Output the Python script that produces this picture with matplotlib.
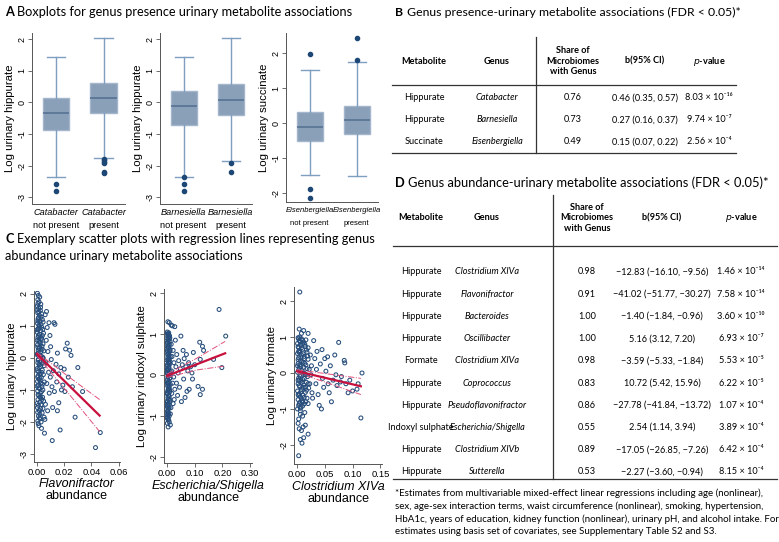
import numpy as np
import matplotlib
matplotlib.use("Agg")
import matplotlib.pyplot as plt

plt.rcParams["axes.unicode_minus"] = False

# ---------------- data ----------------
# A: boxplots (summary stats)
box_genus = ["Catabacter", "Barnesiella", "Eisenbergiella"]
box_ylabel = ["Log urinary hippurate", "Log urinary hippurate", "Log urinary succinate"]
box_med = [[-0.35, 0.15], [-0.10, 0.08], [-0.12, 0.10]]
box_q1 = [[-0.88, -0.35], [-0.72, -0.40], [-0.52, -0.32]]
box_q3 = [[0.15, 0.60], [0.35, 0.58], [0.33, 0.50]]
box_wlo = [[-2.38, -1.75], [-2.35, -1.85], [-1.48, -1.52]]
box_whi = [[1.43, 2.03], [1.45, 2.03], [1.53, 1.75]]
box_fliers = [
    [[-2.58, -2.80], [-1.78, -1.83, -1.88, -1.93, -2.20, -2.25]],
    [[-2.38, -2.58, -2.80], [-1.93, -2.20]],
    [[1.97, -1.88, -2.13], [1.82, 2.45]],
]
box_yticks = [[-3, -2, -1, 0, 1, 2], [-3, -2, -1, 0, 1, 2], [-2, -1, 0, 1, 2]]

# C: scatter points (abundance, log metabolite)
flavo_pts = np.array([
    (0.0003, 2.02), (0.0010, 1.95), (0.0006, 1.82), (0.0015, 1.75), (0.0002, 1.62), (0.0012, 1.55),
    (0.0025, 1.48), (0.0005, 1.41), (0.0018, 1.33), (0.0030, 1.28), (0.0008, 1.22), (0.0022, 1.15),
    (0.0004, 1.08), (0.0014, 1.02), (0.0035, 0.96), (0.0009, 0.91), (0.0027, 0.85), (0.0002, 0.80),
    (0.0019, 0.74), (0.0040, 0.70), (0.0007, 0.64), (0.0031, 0.58), (0.0013, 0.53), (0.0024, 0.47),
    (0.0004, 0.41), (0.0037, 0.36), (0.0016, 0.30), (0.0009, 0.24), (0.0028, 0.19), (0.0003, 0.13),
    (0.0021, 0.07), (0.0042, 0.02), (0.0011, -0.04), (0.0033, -0.10), (0.0006, -0.15), (0.0017, -0.21),
    (0.0026, -0.27), (0.0002, -0.33), (0.0039, -0.38), (0.0012, -0.44), (0.0023, -0.50), (0.0008, -0.56),
    (0.0032, -0.61), (0.0015, -0.67), (0.0004, -0.73), (0.0029, -0.79), (0.0010, -0.85), (0.0036, -0.90),
    (0.0019, -0.96), (0.0005, -1.03), (0.0025, -1.10), (0.0013, -1.17), (0.0041, -1.23), (0.0007, -1.30),
    (0.0020, -1.38), (0.0030, -1.46), (0.0003, -1.55), (0.0016, -1.64), (0.0038, -1.72), (0.0011, -1.82),
    (0.0024, -1.90), (0.0006, -1.97), (0.0014, -2.12), (0.0033, -2.20),
    (0.0020, 1.90), (0.0028, 1.68), (0.0001, 1.50), (0.0034, 1.38), (0.0011, 1.26), (0.0045, 1.12),
    (0.0017, 0.99), (0.0001, 0.88), (0.0048, 0.77), (0.0023, 0.66), (0.0001, 0.55), (0.0044, 0.44),
    (0.0020, 0.33), (0.0050, 0.22), (0.0001, 0.10), (0.0046, -0.01), (0.0022, -0.12), (0.0052, -0.24),
    (0.0001, -0.40), (0.0047, -0.52), (0.0021, -0.63), (0.0054, -0.75), (0.0001, -0.88), (0.0043, -1.00),
    (0.0027, -1.25), (0.0049, -1.35), (0.0001, -1.42), (0.0044, -1.58), (0.0021, -1.75), (0.0052, -1.85),
    (0.0009, -2.05),
    (0.0007, 1.70), (0.0026, 1.58), (0.0013, 1.44), (0.0039, 1.20), (0.0006, 1.16), (0.0029, 1.05),
    (0.0016, 0.93), (0.0042, 0.89), (0.0010, 0.70), (0.0034, 0.62), (0.0018, 0.50), (0.0006, 0.34),
    (0.0038, 0.27), (0.0014, 0.17), (0.0031, 0.05), (0.0008, -0.07), (0.0040, -0.17), (0.0016, -0.30),
    (0.0034, -0.45), (0.0005, -0.60), (0.0024, -0.72), (0.0040, -0.82), (0.0013, -0.93), (0.0033, -1.05),
    (0.0008, -1.15), (0.0022, -1.22), (0.0036, -1.30), (0.0010, -1.48), (0.0026, -1.58), (0.0005, -1.70),
    (0.0018, -1.88), (0.0030, -2.00),
    (0.0060, 1.35), (0.0075, 0.95), (0.0068, 0.55), (0.0080, 0.20), (0.0065, -0.15), (0.0085, -0.45),
    (0.0072, -0.80), (0.0090, -1.10), (0.0062, -1.45), (0.0078, -1.65), (0.0058, -1.92), (0.0095, 0.70),
    (0.0100, 0.35), (0.0105, -0.05), (0.0098, -0.60), (0.0110, -0.90), (0.0120, -0.40), (0.0125, 1.10),
    (0.0132, 1.05), (0.0115, -1.55), (0.0140, -0.20), (0.0145, -0.75), (0.0128, -1.05), (0.0088, 1.10),
    (0.0070, 1.45), (0.0150, 0.15), (0.0160, -0.50),
    (0.0210, 0.28), (0.0222, 0.46), (0.0240, 0.24), (0.0250, 0.08), (0.0300, -0.30), (0.0335, -1.05),
    (0.0200, -0.35), (0.0180, -1.00), (0.0205, -1.05), (0.0150, -1.65), (0.0170, -2.25), (0.0112, -2.58),
    (0.0055, -2.35), (0.0280, -1.85), (0.0430, -2.80), (0.0465, -2.33), (0.0190, -0.85), (0.0230, -0.60),
    (0.0160, -1.40), (0.0175, -0.30), (0.0260, -0.90),
])

esch_pts = np.array([
    (0.001, 1.05), (0.006, 1.03), (0.003, 0.98), (0.009, 0.95), (0.000, 0.90), (0.005, 0.86),
    (0.011, 0.82), (0.002, 0.77), (0.007, 0.73), (0.004, 0.68), (0.010, 0.63), (0.001, 0.59),
    (0.006, 0.54), (0.003, 0.49), (0.012, 0.45), (0.008, 0.40), (0.000, 0.36), (0.005, 0.31),
    (0.010, 0.27), (0.002, 0.22), (0.007, 0.18), (0.004, 0.13), (0.011, 0.09), (0.001, 0.04),
    (0.006, 0.00), (0.003, -0.05), (0.009, -0.09), (0.000, -0.14), (0.005, -0.18), (0.012, -0.23),
    (0.002, -0.27), (0.008, -0.32), (0.004, -0.36), (0.010, -0.41), (0.001, -0.46), (0.006, -0.50),
    (0.003, -0.55), (0.009, -0.60), (0.000, -0.64), (0.005, -0.69), (0.002, -0.74), (0.007, -0.79),
    (0.004, -0.84), (0.001, -0.89), (0.006, -0.94), (0.003, -0.99), (0.000, -1.04), (0.004, -1.09),
    (0.004, 1.01), (0.008, 0.88), (0.002, 0.71), (0.009, 0.57), (0.003, 0.43), (0.007, 0.29),
    (0.001, 0.15), (0.009, 0.02), (0.002, -0.11), (0.007, -0.25), (0.003, -0.39), (0.008, -0.53),
    (0.001, -0.67), (0.007, -0.81), (0.002, -0.96), (0.005, 0.93), (0.000, 0.64), (0.006, 0.37),
    (0.000, 0.07), (0.004, -0.20), (0.000, -0.45), (0.003, -0.72), (0.001, -1.18), (0.008, -1.15),
    (0.012, -1.22), (0.004, -1.27), (0.003, 1.30), (0.008, 1.28), (0.015, 1.22),
    (0.002, 1.00), (0.007, 0.97), (0.010, 0.91), (0.004, 0.84), (0.001, 0.80), (0.008, 0.75),
    (0.005, 0.66), (0.011, 0.60), (0.002, 0.52), (0.007, 0.46), (0.004, 0.38), (0.010, 0.33),
    (0.001, 0.25), (0.006, 0.20), (0.003, 0.10), (0.008, 0.06), (0.005, -0.02), (0.011, -0.07),
    (0.001, -0.20), (0.006, -0.29), (0.009, -0.37), (0.002, -0.43), (0.005, -0.58), (0.010, -0.66),
    (0.001, -0.78), (0.004, -0.92), (0.008, -1.00), (0.002, -1.06), (0.006, -1.10),
    (0.015, 0.75), (0.018, 0.45), (0.016, 0.10), (0.020, -0.20), (0.017, -0.45), (0.022, 0.60),
    (0.025, 0.30), (0.024, -0.05), (0.028, -0.35), (0.026, -0.60), (0.030, 0.85), (0.032, 0.20),
    (0.035, 0.50), (0.034, -0.20), (0.038, -0.50), (0.040, 0.05), (0.042, 0.35), (0.045, -0.30),
    (0.048, 0.15), (0.050, 0.95), (0.052, -0.65), (0.055, 0.25), (0.058, 0.60), (0.060, -0.10),
    (0.062, 0.40), (0.065, -0.55), (0.068, 0.20), (0.070, 0.50), (0.072, -0.40), (0.075, 0.10),
    (0.078, 0.30), (0.080, -0.35), (0.085, 0.20), (0.090, 0.05), (0.019, 1.20), (0.028, 1.18),
    (0.014, -0.80), (0.022, -0.70), (0.012, -0.95),
    (0.188, 1.60), (0.212, 0.95), (0.118, 0.80), (0.128, 0.70), (0.132, 0.60), (0.120, 0.38),
    (0.198, 0.18), (0.168, 0.38), (0.112, -0.28), (0.120, -0.48), (0.128, -0.35), (0.100, 0.25),
    (0.095, 0.55), (0.092, -0.10),
])

clos_pts = np.array([
    (0.002, 0.98), (0.008, 0.95), (0.004, 0.90), (0.012, 0.86), (0.001, 0.82), (0.006, 0.78),
    (0.015, 0.74), (0.003, 0.70), (0.010, 0.66), (0.005, 0.62), (0.018, 0.58), (0.001, 0.54),
    (0.008, 0.50), (0.013, 0.46), (0.003, 0.42), (0.020, 0.38), (0.006, 0.34), (0.011, 0.30),
    (0.002, 0.26), (0.016, 0.22), (0.007, 0.18), (0.004, 0.14), (0.022, 0.10), (0.009, 0.06),
    (0.001, 0.02), (0.014, -0.02), (0.005, -0.06), (0.019, -0.10), (0.003, -0.14), (0.010, -0.18),
    (0.007, -0.22), (0.017, -0.26), (0.002, -0.30), (0.012, -0.34), (0.005, -0.38), (0.021, -0.42),
    (0.008, -0.46), (0.001, -0.50), (0.015, -0.54), (0.004, -0.58), (0.011, -0.62), (0.006, -0.66),
    (0.018, -0.70), (0.002, -0.74), (0.009, -0.78), (0.005, -0.82), (0.013, -0.86), (0.003, -0.90),
    (0.007, -0.95), (0.001, -1.00),
    (0.005, 1.00), (0.010, 0.82), (0.003, 0.60), (0.013, 0.40), (0.001, 0.20), (0.012, 0.00),
    (0.004, -0.20), (0.015, -0.40), (0.002, -0.60), (0.010, -0.80), (0.006, -1.05), (0.016, 0.92),
    (0.020, 0.70), (0.024, 0.50), (0.026, 0.20), (0.025, -0.05), (0.023, -0.30), (0.027, -0.55),
    (0.020, -0.85), (0.008, 1.10), (0.004, 1.22), (0.012, 1.18), (0.020, 1.10), (0.014, -1.10),
    (0.010, -1.20), (0.003, -1.28), (0.006, -1.15),
    (0.003, 0.95), (0.010, 0.91), (0.006, 0.86), (0.014, 0.80), (0.002, 0.73), (0.008, 0.70),
    (0.017, 0.64), (0.004, 0.57), (0.011, 0.53), (0.007, 0.44), (0.019, 0.47), (0.002, 0.37),
    (0.009, 0.32), (0.014, 0.27), (0.005, 0.22), (0.012, 0.16), (0.018, 0.12), (0.003, 0.08),
    (0.008, 0.02), (0.016, -0.05), (0.006, -0.10), (0.013, -0.15), (0.002, -0.20), (0.009, -0.26),
    (0.020, -0.30), (0.004, -0.35), (0.011, -0.40), (0.017, -0.48), (0.007, -0.52), (0.003, -0.63),
    (0.013, -0.68), (0.008, -0.72), (0.016, -0.80), (0.004, -0.86), (0.010, -0.92), (0.006, -0.98),
    (0.030, 0.90), (0.032, 0.40), (0.035, 0.10), (0.034, -0.30), (0.038, -0.60), (0.040, -0.90),
    (0.044, -1.00), (0.042, 0.25), (0.046, -0.15), (0.048, -0.40), (0.050, 0.40), (0.052, 0.05),
    (0.055, 0.45), (0.056, -0.30), (0.058, -0.55), (0.060, 0.20), (0.062, -0.80), (0.065, -0.20),
    (0.068, 0.50), (0.070, -0.05), (0.072, -0.35), (0.075, 0.85), (0.078, -0.25), (0.080, -0.10),
    (0.085, 0.35), (0.086, 0.28), (0.088, -0.30), (0.092, -0.55), (0.095, -0.20), (0.100, -0.50),
    (0.110, -0.30), (0.115, -1.25), (0.117, 0.00), (0.108, -0.45), (0.028, -0.70), (0.036, 0.60),
    (0.045, 0.65),
    (0.005, 2.25), (0.003, -2.30), (0.009, -1.95), (0.012, -1.80), (0.020, -1.70), (0.015, -1.45),
    (0.004, -1.55), (0.008, -1.60), (0.002, -1.40), (0.011, -1.50), (0.006, -1.85),
])

sc_points = [flavo_pts, esch_pts, clos_pts]
sc_genus = ["Flavonifractor", "Escherichia/Shigella", "Clostridium XIVa"]
sc_ylabel = ["Log urinary hippurate", "Log urinary indoxyl sulphate", "Log urinary formate"]
sc_xticks = [[0.0, 0.02, 0.04, 0.06], [0.0, 0.10, 0.20, 0.30], [0.0, 0.05, 0.10, 0.15]]
sc_yticks = [[-3, -2, -1, 0, 1, 2], [-2, -1, 0, 1, 2], [-2, -1, 0, 1, 2]]
# fitted line and 95% CI (x, fit, lower, upper)
fit_x = [[0.0, 0.023, 0.046], [0.0, 0.105, 0.21], [0.0, 0.0575, 0.115]]
fit_y = [[0.12, -0.84, -1.80], [-0.02, 0.255, 0.53], [0.05, -0.16, -0.37]]
fit_lo = [[0.07, -1.10, -2.30], [-0.06, 0.12, 0.22], [0.01, -0.29, -0.60]]
fit_hi = [[0.17, -0.58, -1.30], [0.02, 0.40, 0.82], [0.09, -0.03, -0.15]]

# B table
b_metab = ["Hippurate", "Hippurate", "Succinate"]
b_genus = ["Catabacter", "Barnesiella", "Eisenbergiella"]
b_share = ["0.76", "0.73", "0.49"]
b_ci = ["0.46 (0.35, 0.57)", "0.27 (0.16, 0.37)", "0.15 (0.07, 0.22)"]
b_p = ["8.03 × 10⁻¹⁶", "9.74 × 10⁻⁷", "2.56 × 10⁻⁴"]

# D table
d_metab = ["Hippurate", "Hippurate", "Hippurate", "Hippurate", "Formate", "Hippurate",
           "Hippurate", "Indoxyl sulphate", "Hippurate", "Hippurate"]
d_genus = ["Clostridium XIVa", "Flavonifractor", "Bacteroides", "Oscillibacter", "Clostridium XIVa",
           "Coprococcus", "Pseudoflavonifractor", "Escherichia/Shigella", "Clostridium XIVb", "Sutterella"]
d_share = ["0.98", "0.91", "1.00", "1.00", "0.98", "0.83", "0.86", "0.55", "0.89", "0.53"]
d_ci = ["−12.83 (−16.10, −9.56)", "−41.02 (−51.77, −30.27)", "−1.40 (−1.84, −0.96)",
        "5.16 (3.12, 7.20)", "−3.59 (−5.33, −1.84)", "10.72 (5.42, 15.96)",
        "−27.78 (−41.84, −13.72)", "2.54 (1.14, 3.94)", "−17.05 (−26.85, −7.26)",
        "−2.27 (−3.60, −0.94)"]
d_p = ["1.46 × 10⁻¹⁴", "7.58 × 10⁻¹⁴", "3.60 × 10⁻¹⁰", "6.93 × 10⁻⁷", "5.53 × 10⁻⁵",
       "6.22 × 10⁻⁵", "1.07 × 10⁻⁴", "3.89 × 10⁻⁴", "6.42 × 10⁻⁴", "8.15 × 10⁻⁴"]

footnote = ("*Estimates from multivariable mixed-effect linear regressions including age (nonlinear),\n"
            "sex, age-sex interaction terms, waist circumference (nonlinear), smoking, hypertension,\n"
            "HbA1c, years of education, kidney function (nonlinear), urinary pH, and alcohol intake. For\n"
            "estimates using basis set of covariates, see Supplementary Table S2 and S3.")

# ---------------- figure ----------------
W, H = 779, 542
fig = plt.figure(figsize=(W / 100, H / 100), dpi=100)
TXT = ["Lato", "DejaVu Sans"]
PLT = ["Liberation Sans", "DejaVu Sans"]


def px_axes(l, t, r, b):
    return fig.add_axes([l / W, 1 - b / H, (r - l) / W, (b - t) / H])


def ftext(x, y, s, **kw):
    kw.setdefault("family", TXT)
    kw.setdefault("va", "center")
    return fig.text(x / W, 1 - y / H, s, **kw)


def hline(x0, x1, y):
    fig.add_artist(plt.Line2D([x0 / W, x1 / W], [1 - y / H, 1 - y / H], color="#333333", lw=0.9))


def vline(x, y0, y1):
    fig.add_artist(plt.Line2D([x / W, x / W], [1 - y0 / H, 1 - y1 / H], color="#333333", lw=0.9))


def panel_title(x, y, letter, rest, size=9.2):
    t = ftext(x, y, letter, weight="bold", size=size)
    bb = t.get_window_extent(fig.canvas.get_renderer())
    ftext(bb.x1 + 3.5, y, rest, size=size)


def stata_axes(ax):
    for s in ["top", "right"]:
        ax.spines[s].set_visible(False)
    for s in ["left", "bottom"]:
        ax.spines[s].set_color("#555555")
        ax.spines[s].set_linewidth(0.7)
    ax.tick_params(axis="y", labelrotation=90, length=3, width=0.6, color="#555555",
                   labelsize=6.5, pad=1.2)
    for lab in ax.get_yticklabels():
        lab.set_va("center")
        lab.set_family(PLT)


# Panel A ---------------------------------------------------------
panel_title(5, 12, "A", "Boxplots for genus presence urinary metabolite associations")
box_frames = [(32, 33, 125, 204), (160, 33, 252, 204), (286, 33, 378, 202)]
box_ylims = [(-3.22, 2.2), (-3.22, 2.2), (-2.25, 2.58)]
for i, (l, t, r, b) in enumerate(box_frames):
    ax = px_axes(l, t, r, b)
    stats = []
    for j in range(2):
        stats.append(dict(med=box_med[i][j], q1=box_q1[i][j], q3=box_q3[i][j],
                          whislo=box_wlo[i][j], whishi=box_whi[i][j], fliers=box_fliers[i][j]))
    ax.bxp(stats, positions=[1, 2], widths=0.55, capwidths=0.38, patch_artist=True,
           boxprops=dict(facecolor="#8a9fb8", edgecolor="#a3b6cb", linewidth=1.0),
           medianprops=dict(color="#53708f", linewidth=1.1),
           whiskerprops=dict(color="#7f9ec0", linewidth=1.0),
           capprops=dict(color="#7f9ec0", linewidth=1.0),
           flierprops=dict(marker="o", markersize=3.0, markerfacecolor="#1d4876",
                           markeredgecolor="#1d4876"))
    ax.set_xlim(0.5, 2.45)
    ax.set_ylim(*box_ylims[i])
    ax.set_yticks(box_yticks[i])
    ax.set_xticks([])
    stata_axes(ax)
    ax.set_ylabel(box_ylabel[i], family=PLT, size=8.2, labelpad=1.5)
    small = 5.5 if i == 2 else 6.6
    for j, lab2 in enumerate(["not present", "present"]):
        ax.text(j + 1, -0.05, box_genus[i], transform=ax.get_xaxis_transform(), ha="center",
                va="center", style="italic", size=small, family=PLT)
        ax.text(j + 1, -0.125, lab2, transform=ax.get_xaxis_transform(), ha="center",
                va="center", size=small, family=PLT)

# Panel C ---------------------------------------------------------
panel_title(5, 239, "C", "Exemplary scatter plots with regression lines representing genus")
ftext(5, 256, "abundance urinary metabolite associations", size=9.2)
sc_frames = [(34, 291, 120, 462), (164, 289, 252, 463), (294, 287, 382, 464)]
sc_xlims = [(-0.0022, 0.061), (-0.011, 0.307), (-0.0054, 0.153)]
sc_ylims = [(-3.25, 2.09), (-2.15, 2.1), (-2.53, 2.39)]
for i, (l, t, r, b) in enumerate(sc_frames):
    ax = px_axes(l, t, r, b)
    pts = sc_points[i]
    ax.scatter(pts[:, 0], pts[:, 1], s=8, facecolors="none", edgecolors="#264d7b",
               linewidths=0.75, zorder=2)
    ax.plot(fit_x[i], fit_lo[i], color="#e0507a", lw=0.7, ls="-.", zorder=3)
    ax.plot(fit_x[i], fit_hi[i], color="#e0507a", lw=0.7, ls="-.", zorder=3)
    ax.plot(fit_x[i], fit_y[i], color="#c8103e", lw=1.6, zorder=4)
    ax.set_xlim(*sc_xlims[i])
    ax.set_ylim(*sc_ylims[i])
    ax.set_xticks(sc_xticks[i])
    ax.set_xticklabels(["%.2f" % v for v in sc_xticks[i]], family=PLT)
    ax.set_yticks(sc_yticks[i])
    stata_axes(ax)
    ax.tick_params(axis="x", length=3, width=0.6, color="#555555", labelsize=6.8, pad=1.5)
    ax.set_ylabel(sc_ylabel[i], family=PLT, size=8.2, labelpad=1.5)
    ax.text(0.5, -0.13, sc_genus[i], transform=ax.transAxes, ha="center", va="center",
            style="italic", size=9, family=PLT)
    ax.text(0.5, -0.2, "abundance", transform=ax.transAxes, ha="center", va="center",
            size=9, family=PLT)

# Panel B ---------------------------------------------------------
panel_title(395, 12, "B", "Genus presence-urinary metabolite associations (FDR < 0.05)*", size=8.8)
b_cols = [424, 497, 573, 645, 709]
hs = 6.6
ftext(b_cols[0], 61, "Metabolite", ha="center", weight="bold", size=hs)
ftext(b_cols[1], 61, "Genus", ha="center", weight="bold", size=hs)
ftext(b_cols[2], 61, "Share of\nMicrobiomes\nwith Genus", ha="center", weight="bold", size=hs,
      linespacing=1.25)
ftext(b_cols[3], 61, "b(95% CI)", ha="center", weight="bold", size=hs)
ftext(b_cols[4], 61, "$p$-value", ha="center", weight="bold", size=hs)
hline(392, 736, 85)
hline(392, 736, 153)
vline(536, 37, 153)
for k in range(len(b_metab)):
    y = 98 + k * 22
    ftext(b_cols[0], y, b_metab[k], ha="center", size=hs)
    ftext(b_cols[1], y, b_genus[k], ha="center", size=hs, style="italic")
    ftext(b_cols[2], y, b_share[k], ha="center", size=hs)
    ftext(b_cols[3], y, b_ci[k], ha="center", size=hs)
    ftext(b_cols[4], y, b_p[k], ha="center", size=hs)

# Panel D ---------------------------------------------------------
panel_title(395, 183, "D", "Genus abundance-urinary metabolite associations (FDR < 0.05)*", size=9.3)
d_cols = [421, 487, 587, 662, 741]
hy = 218
ftext(d_cols[0], hy, "Metabolite", ha="center", weight="bold", size=hs)
ftext(d_cols[1], hy, "Genus", ha="center", weight="bold", size=hs)
ftext(d_cols[2], hy, "Share of\nMicrobiomes\nwith Genus", ha="center", weight="bold", size=hs,
      linespacing=1.25)
ftext(d_cols[3], hy, "b(95% CI)", ha="center", weight="bold", size=hs)
ftext(d_cols[4], hy, "$p$-value", ha="center", weight="bold", size=hs)
hline(393, 777, 246)
hline(393, 777, 479)
vline(553, 195, 479)
for k in range(len(d_metab)):
    y = 272 + k * 22.2
    ftext(d_cols[0], y, d_metab[k], ha="center", size=hs)
    ftext(d_cols[1], y, d_genus[k], ha="center", size=hs, style="italic")
    ftext(d_cols[2], y, d_share[k], ha="center", size=hs)
    ftext(d_cols[3], y, d_ci[k], ha="center", size=hs)
    ftext(d_cols[4], y, d_p[k], ha="center", size=hs)

ftext(395, 512, footnote, ha="left", size=7.0, linespacing=1.45)

fig.savefig("out.png", dpi=100)
